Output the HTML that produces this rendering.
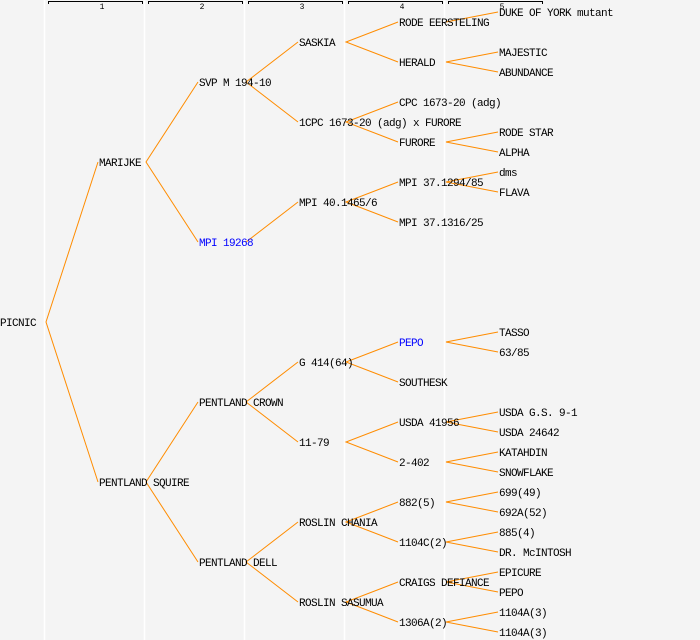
<!DOCTYPE html>
<html><head><meta charset="utf-8"><style>
html,body{margin:0;padding:0;background:#f4f4f4;}
svg{display:block}
text{font-family:"Liberation Mono",monospace;font-size:11px;letter-spacing:-0.6px;fill:#000}
.b{fill:#0000ff}
.h{font-size:8px;letter-spacing:0}
</style></head><body>
<svg width="700" height="640" xmlns="http://www.w3.org/2000/svg">
<rect width="700" height="640" fill="#f4f4f4"/>
<g stroke="#ffffff" stroke-width="1.5">
<line x1="44.5" y1="0" x2="44.5" y2="640"/>
<line x1="144.5" y1="0" x2="144.5" y2="640"/>
<line x1="244.5" y1="0" x2="244.5" y2="640"/>
<line x1="344.5" y1="0" x2="344.5" y2="640"/>
<line x1="444.5" y1="0" x2="444.5" y2="640"/>
</g>
<g stroke="#000" stroke-width="1" fill="none">
<path d="M48.5 4V1.5H142.5V4"/>
<path d="M148.5 4V1.5H242.5V4"/>
<path d="M248.5 4V1.5H342.5V4"/>
<path d="M348.5 4V1.5H442.5V4"/>
<path d="M448.5 4V1.5H542.5V4"/>
</g>
<g text-anchor="middle">
<text class="h" x="102" y="9">1</text>
<text class="h" x="202" y="9">2</text>
<text class="h" x="302" y="9">3</text>
<text class="h" x="402" y="9">4</text>
<text class="h" x="502" y="9">5</text>
</g>
<g stroke="#ff8c00" stroke-width="1" fill="none">
<path d="M98 162L46 322L98 482"/>
<path d="M198 82L146 162L198 242"/>
<path d="M198 402L146 482L198 562"/>
<path d="M298 42L246 82L298 122"/>
<path d="M298 202L246 242"/>
<path d="M298 362L246 402L298 442"/>
<path d="M298 522L246 562L298 602"/>
<path d="M398 22L346 42L398 62"/>
<path d="M398 102L346 122L398 142"/>
<path d="M398 182L346 202L398 222"/>
<path d="M398 342L346 362L398 382"/>
<path d="M398 422L346 442L398 462"/>
<path d="M398 502L346 522L398 542"/>
<path d="M398 582L346 602L398 622"/>
<path d="M498 12L446 22"/>
<path d="M498 52L446 62L498 72"/>
<path d="M498 132L446 142L498 152"/>
<path d="M498 172L446 182L498 192"/>
<path d="M498 332L446 342L498 352"/>
<path d="M498 412L446 422L498 432"/>
<path d="M498 452L446 462L498 472"/>
<path d="M498 492L446 502L498 512"/>
<path d="M498 532L446 542L498 552"/>
<path d="M498 572L446 582L498 592"/>
<path d="M498 612L446 622L498 632"/>
</g>
<text x="0" y="326">PICNIC</text>
<text x="99" y="166">MARIJKE</text>
<text x="99" y="486">PENTLAND SQUIRE</text>
<text x="199" y="86">SVP M 194-10</text>
<text x="199" y="246" class="b">MPI 19268</text>
<text x="199" y="406">PENTLAND CROWN</text>
<text x="199" y="566">PENTLAND DELL</text>
<text x="299" y="46">SASKIA</text>
<text x="299" y="126">1CPC 1673-20 (adg) x FURORE</text>
<text x="299" y="206">MPI 40.1465/6</text>
<text x="299" y="366">G 414(64)</text>
<text x="299" y="446">11-79</text>
<text x="299" y="526">ROSLIN CHANIA</text>
<text x="299" y="606">ROSLIN SASUMUA</text>
<text x="399" y="26">RODE EERSTELING</text>
<text x="399" y="66">HERALD</text>
<text x="399" y="106">CPC 1673-20 (adg)</text>
<text x="399" y="146">FURORE</text>
<text x="399" y="186">MPI 37.1294/85</text>
<text x="399" y="226">MPI 37.1316/25</text>
<text x="399" y="346" class="b">PEPO</text>
<text x="399" y="386">SOUTHESK</text>
<text x="399" y="426">USDA 41956</text>
<text x="399" y="466">2-402</text>
<text x="399" y="506">882(5)</text>
<text x="399" y="546">1104C(2)</text>
<text x="399" y="586">CRAIGS DEFIANCE</text>
<text x="399" y="626">1306A(2)</text>
<text x="499" y="16">DUKE OF YORK mutant</text>
<text x="499" y="56">MAJESTIC</text>
<text x="499" y="76">ABUNDANCE</text>
<text x="499" y="136">RODE STAR</text>
<text x="499" y="156">ALPHA</text>
<text x="499" y="176">dms</text>
<text x="499" y="196">FLAVA</text>
<text x="499" y="336">TASSO</text>
<text x="499" y="356">63/85</text>
<text x="499" y="416">USDA G.S. 9-1</text>
<text x="499" y="436">USDA 24642</text>
<text x="499" y="456">KATAHDIN</text>
<text x="499" y="476">SNOWFLAKE</text>
<text x="499" y="496">699(49)</text>
<text x="499" y="516">692A(52)</text>
<text x="499" y="536">885(4)</text>
<text x="499" y="556">DR. McINTOSH</text>
<text x="499" y="576">EPICURE</text>
<text x="499" y="596">PEPO</text>
<text x="499" y="616">1104A(3)</text>
<text x="499" y="636">1104A(3)</text>
</svg>
</body></html>
